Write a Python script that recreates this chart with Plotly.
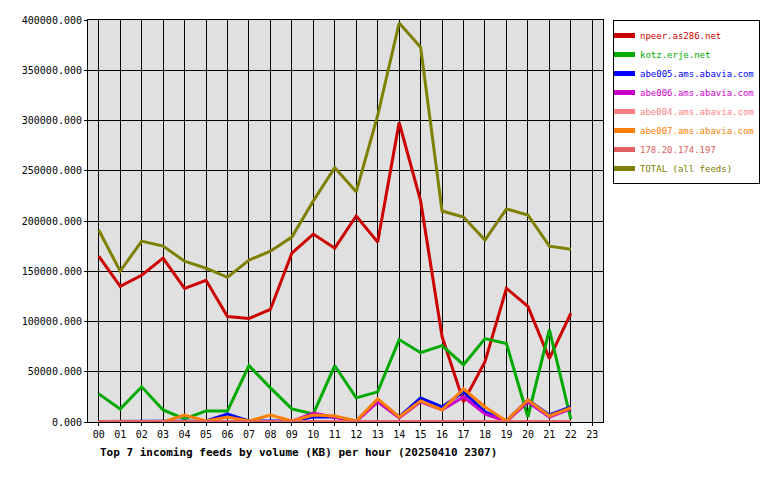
import plotly.graph_objects as go

hours = [f"{i:02d}" for i in range(24)]
npeer = [165000,135000,146000,163000,133000,141000,105000,103000,112000,168000,187000,173000,205000,179000,298000,220000,85000,20000,60000,133000,115000,63000,108000]
kotz = [28000,13000,35000,12000,3000,11000,11000,56000,34000,13000,8000,56000,24000,30000,82000,69000,76000,57000,83000,78000,5000,92000,3000]
abe005 = [500,500,500,500,1000,1000,8000,1000,1000,1000,5000,5000,1000,22000,5000,24000,15000,30000,10000,1000,22000,7000,15000]
abe006 = [300,300,300,300,500,500,1000,500,500,500,9000,5000,500,20000,4000,20000,12000,25000,8000,500,20000,5000,13000]
abe004 = [200]*23
abe007 = [0,0,0,0,7000,1000,5000,1000,7000,1000,7000,6000,1000,23000,5000,21000,12000,33000,15000,1000,22000,6000,14000]
ip178 = [300]*23
total = [191000,150000,180000,175000,160000,153000,144000,161000,170000,184000,220000,253000,229000,305000,397000,373000,210000,204000,181000,212000,206000,175000,172000]

series = [("npeer.as286.net", npeer, "#cc0000"),
          ("kotz.erje.net", kotz, "#00aa00"),
          ("abe005.ams.abavia.com", abe005, "#0000ff"),
          ("abe006.ams.abavia.com", abe006, "#cc00cc"),
          ("abe004.ams.abavia.com", abe004, "#ff8080"),
          ("abe007.ams.abavia.com", abe007, "#ff8000"),
          ("178.20.174.197", ip178, "#e06060"),
          ("TOTAL (all feeds)", total, "#808000")]

fig = go.Figure()
for name, vals, col in series:
    fig.add_trace(go.Scatter(x=hours[:len(vals)], y=vals,
                             name=f"<span style='color:{col}'>{name}</span>", mode="lines",
                             line=dict(color=col, width=3)))
fig.update_layout(
    width=780, height=480, paper_bgcolor="white", plot_bgcolor="#e0e0e0",
    font=dict(family="DejaVu Sans Mono", size=10, color="black"),
    margin=dict(l=80, r=185, t=12, b=66, autoexpand=False),
    showlegend=True,
    legend=dict(x=(605-80)/515, y=1, xanchor="left", yanchor="top", bordercolor="black", borderwidth=1,
                font=dict(size=9), tracegroupgap=0, itemwidth=30, itemsizing="constant",
                indentation=-14),
    title=dict(text="<b>Top 7 incoming feeds by volume (KB) per hour (20250410 2307)</b>",
               x=92/780, xanchor="left", y=1-444/480, yanchor="middle", font=dict(size=11)),
)
fig.update_xaxes(type="category", categoryorder="array", categoryarray=hours, range=[-0.5, 23.5],
                 showgrid=True, gridcolor="black", gridwidth=1, showline=True, linecolor="black",
                 mirror=True, ticks="outside", ticklen=3, tickcolor="black", automargin=False)
fig.update_yaxes(range=[0, 400000], dtick=50000, tickformat=".3f", showgrid=True, gridcolor="black",
                 showline=True, linecolor="black", mirror=True, ticks="outside", ticklen=3,
                 tickcolor="black", zeroline=False, automargin=False)
fig.write_html("out.html")
